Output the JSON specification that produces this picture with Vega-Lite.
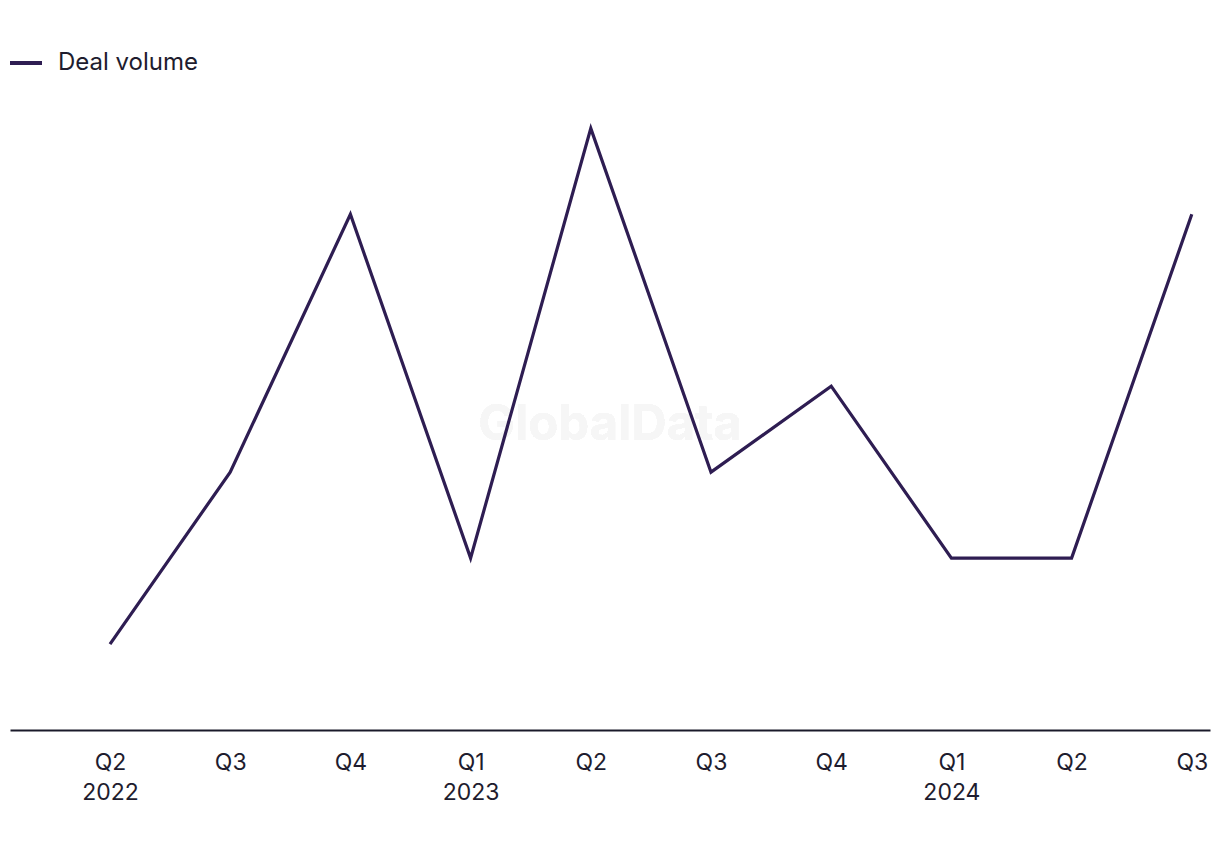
{
  "$schema": "https://vega.github.io/schema/vega-lite/v6.json",
  "width": 1200,
  "height": 630,
  "autosize": {"type": "none"},
  "padding": {"left": 10, "top": 100, "right": 10, "bottom": 120},
  "background": "white",
  "config": {
    "view": {"stroke": null},
    "font": "Inter"
  },
  "data": {
    "values": [
      {"quarter": "Q2 2022", "series": "Deal volume", "value": 1},
      {"quarter": "Q3 2022", "series": "Deal volume", "value": 3},
      {"quarter": "Q4 2022", "series": "Deal volume", "value": 6},
      {"quarter": "Q1 2023", "series": "Deal volume", "value": 2},
      {"quarter": "Q2 2023", "series": "Deal volume", "value": 7},
      {"quarter": "Q3 2023", "series": "Deal volume", "value": 3},
      {"quarter": "Q4 2023", "series": "Deal volume", "value": 4},
      {"quarter": "Q1 2024", "series": "Deal volume", "value": 2},
      {"quarter": "Q2 2024", "series": "Deal volume", "value": 2},
      {"quarter": "Q3 2024", "series": "Deal volume", "value": 6}
    ]
  },
  "layer": [
    {
      "mark": {
        "type": "text",
        "text": "GlobalData",
        "x": {"expr": "width/2"},
        "y": {"expr": "height/2 + 10"},
        "font": "Inter",
        "fontSize": 49,
        "fontWeight": "bold",
        "color": "#f6f6f6",
        "align": "center",
        "baseline": "middle"
      },
      "encoding": {}
    },
    {
      "mark": {"type": "line", "strokeWidth": 3.2, "strokeJoin": "miter"},
      "encoding": {
        "x": {
          "field": "quarter",
          "type": "ordinal",
          "sort": null,
          "scale": {"type": "point", "padding": 0.4917, "align": 0.846},
          "axis": {
            "title": null,
            "ticks": false,
            "grid": false,
            "domainColor": "#1a1a2a",
            "domainWidth": 2,
            "labelFont": "Inter",
            "labelFontSize": 23,
            "labelColor": "#1e1c2e",
            "labelLineHeight": 30,
            "labelPadding": 21,
            "labelAngle": 0,
            "labelBaseline": "top",
            "labelExpr": "(datum.value == 'Q2 2022' || slice(datum.value, 0, 2) == 'Q1') ? split(datum.value, ' ') : slice(datum.value, 0, 2)"
          }
        },
        "y": {
          "field": "value",
          "type": "quantitative",
          "scale": {"domain": [0, 7.33], "nice": false, "zero": true},
          "axis": null
        },
        "color": {
          "field": "series",
          "type": "nominal",
          "scale": {"range": ["#2e1d52"]},
          "legend": {
            "title": null,
            "orient": "none",
            "legendX": -2,
            "legendY": -55,
            "symbolType": "stroke",
            "symbolSize": 1024,
            "symbolStrokeWidth": 4,
            "labelFont": "Inter",
            "labelFontSize": 24,
            "labelColor": "#1e1c2e",
            "labelOffset": 14,
            "padding": 0
          }
        }
      }
    }
  ]
}
